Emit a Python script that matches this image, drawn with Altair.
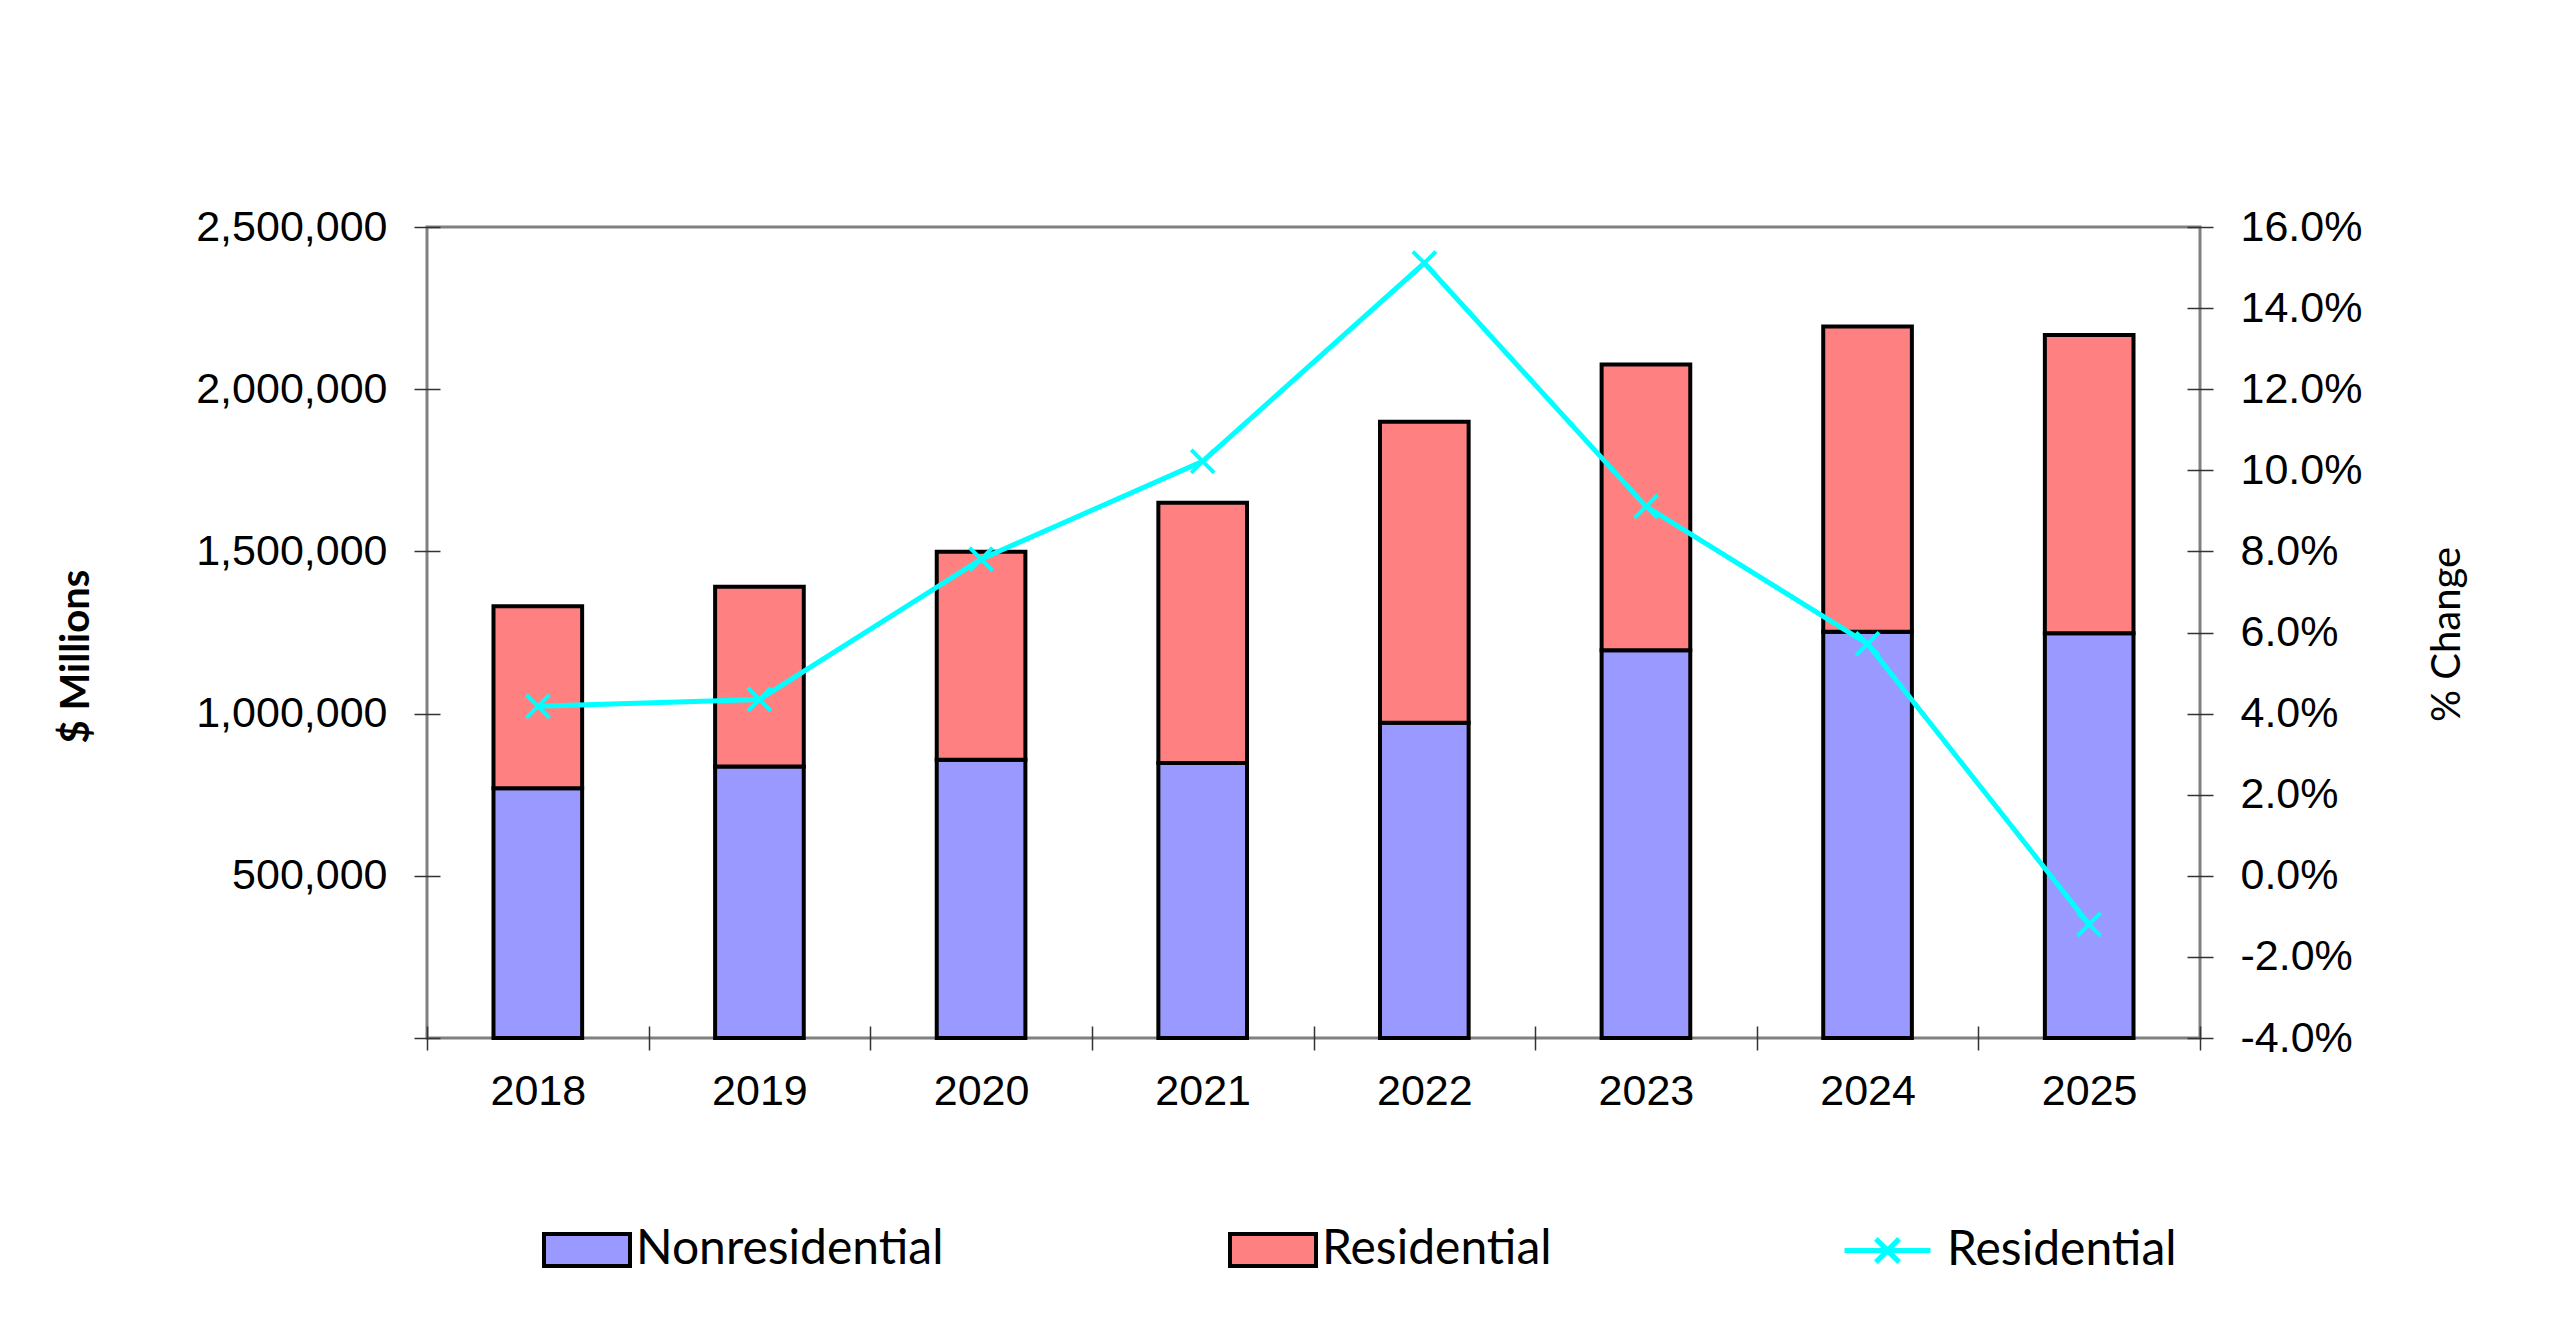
import altair as alt
import pandas as pd

years = ["2018", "2019", "2020", "2021", "2022", "2023", "2024", "2025"]
nonresidential = [769700, 836600, 857800, 848000, 972000, 1195000, 1252000, 1247500]
residential = [561100, 554400, 640900, 802300, 928000, 881000, 941000, 919500]
pct_change = [4.18, 4.35, 7.81, 10.22, 15.11, 9.11, 5.72, -1.20]
series_names = ["Nonresidential", "Residential"]
line_name = "Residential"
bar_colors = ["#9999FF", "#FF8080"]
line_color = "#00FFFF"
left_ticks = [0, 500000, 1000000, 1500000, 2000000, 2500000]
right_ticks = [-0.04, -0.02, 0.0, 0.02, 0.04, 0.06, 0.08, 0.10, 0.12, 0.14, 0.16]

bars_df = pd.DataFrame({
    "year": years * 2,
    "type": [series_names[0]] * len(years) + [series_names[1]] * len(years),
    "value": nonresidential + residential,
    "order": [0] * len(years) + [1] * len(years),
})
line_df = pd.DataFrame({
    "year": years,
    "pct": [p / 100 for p in pct_change],
    "series": [line_name] * len(years),
})

x_enc = alt.X(
    "year:N", sort=years,
    scale=alt.Scale(paddingInner=0, paddingOuter=0),
    axis=alt.Axis(title=None, labelAngle=0, tickBand="extent", offset=-12,
                  tickSize=24, labelPadding=20, domain=False),
)

bars = alt.Chart(bars_df).mark_bar(
    width=alt.RelativeBandSize(0.4), stroke="black", strokeWidth=4
).encode(
    x=x_enc,
    y=alt.Y(
        "value:Q", stack="zero",
        scale=alt.Scale(domain=[0, 2500000], nice=False),
        axis=alt.Axis(
            values=left_ticks,
            labelExpr="datum.value == 0 ? '' : format(datum.value, ',')",
            labelLimit=0,
            title="$ Millions", titleFontWeight="bold",
            titleAngle=270, titleAlign="center", titleBaseline="middle",
            titleX=-364, titleY=429,
            offset=-13, tickSize=26, labelPadding=27, domain=False,
        ),
    ),
    fill=alt.Fill(
        "type:N",
        scale=alt.Scale(domain=series_names, range=bar_colors),
        legend=alt.Legend(
            title=None, orient="none", legendX=115, legendY=978,
            direction="horizontal", columns=2, columnPadding=278,
            symbolType="M-1,-0.372H1V0.372H-1Z", symbolSize=7396,
            symbolStrokeColor="black", symbolStrokeWidth=4,
            labelFont="Lato", labelFontSize=48, labelColor="black",
            labelOffset=4, labelLimit=0, padding=0,
        ),
    ),
    order=alt.Order("order:Q"),
)

line = alt.Chart(line_df).mark_line(
    strokeWidth=5,
    point=alt.OverlayMarkDef(shape="M-1,-1L1,1M-1,1L1,-1", size=529,
                             filled=False, strokeWidth=4, color=line_color),
).encode(
    x=alt.X("year:N", sort=years),
    y=alt.Y(
        "pct:Q",
        scale=alt.Scale(domain=[-0.04, 0.16], nice=False),
        axis=alt.Axis(
            orient="right", values=right_ticks,
            labelExpr="replace(format(datum.value, '.1%'), '\u2212', '-')",
            labelLimit=0,
            title="% Change", titleFontWeight="normal",
            titleAngle=270, titleAlign="center", titleBaseline="middle",
            titleX=260, titleY=407,
            offset=-13, tickSize=26, labelPadding=27, domain=False,
        ),
    ),
    stroke=alt.Stroke(
        "series:N",
        scale=alt.Scale(domain=[line_name], range=[line_color]),
        legend=alt.Legend(
            title=None, orient="none", legendX=1415, legendY=978,
            symbolType="M-1,0H1M-0.27,-0.27L0.27,0.27M-0.27,0.27L0.27,-0.27",
            symbolSize=7396, symbolStrokeWidth=5, symbolFillColor="transparent",
            labelFont="Lato", labelFontSize=48, labelColor="black",
            labelOffset=14, labelLimit=0, padding=0,
        ),
    ),
)

chart = alt.layer(bars, line).resolve_scale(y="independent").properties(
    width=1773, height=811,
    autosize=alt.AutoSizeParams(type="none"),
    padding={"left": 419, "top": 219, "right": 340, "bottom": 280},
    background="white",
).configure_view(
    stroke="#808080", strokeWidth=3
).configure_axis(
    labelFont="Liberation Sans", labelFontSize=43, labelColor="black",
    tickColor="#333333", tickWidth=1.5, grid=False,
    titleFont="Lato", titleFontSize=40, titleColor="black",
)

chart.save("out.html", embed_options={"renderer": "svg", "actions": False})
